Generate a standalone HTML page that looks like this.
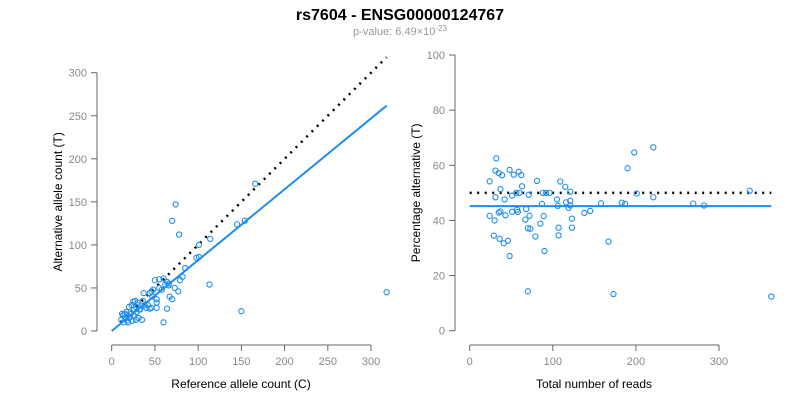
<!DOCTYPE html>
<html><head><meta charset="utf-8"><style>
body{margin:0;background:#fff}
svg{display:block;font-family:"Liberation Sans",Arial,sans-serif}
</style></head><body>
<svg id="c" width="800" height="400">
<text x="400" y="20" text-anchor="middle" font-size="16" font-weight="bold">rs7604 - ENSG00000124767</text>
<text x="400" y="35" text-anchor="middle" font-size="11" fill="#999">p-value: 6.49×10<tspan dy="-4" font-size="8">-23</tspan></text>
</svg>
<script>
const refCounts=[166,74,70,78,114,145,154,101,98,101,85,82,79,113,150,318,60,64,67,70,73,77,50,55,60,64,66,58,52,52,52,46,44,42,47,46,37,35,28,25,27,30,32,20,22,15,12,14,18,16,20,25,29,33,38,40,31,17,13,19,24,26,23,30,36,44,48,55,62,66,18,21,11,28];
const altCounts=[171,147,128,112,107,124,128,100,85,86,73,63,59,54,23,45,10,26,40,37,50,46,59,60,61,57,53,48,37,33,27,27,26,30,40,46,44,13,13,34,35,30,25,28,20,20,20,10,12,15,15,18,22,25,30,27,15,22,18,10,12,25,30,33,35,44,48,50,54,55,19,16,13,28];
const leftXTicks=[0,50,100,150,200,250,300];
const leftYTicks=[0,50,100,150,200,250,300];
const rightXTicks=[0,100,200,300];
const rightYTicks=[0,20,40,60,80,100];
const fitSlope=0.823;
const fitPct=45.2;

const svg=document.getElementById('c');
const NS='http://www.w3.org/2000/svg';
function mk(tag,attrs,parent){const e=document.createElementNS(NS,tag);for(const k in attrs)e.setAttribute(k,attrs[k]);(parent||svg).appendChild(e);return e;}
const AX='#666',LB='#888',BLUE='#1e8cf0';

const lx=v=>111.7+v*0.8645, ly=v=>331-v*0.861;
const rx=v=>469.7+v*0.831, ry=v=>330.7-v*2.757;

function axes(xs,ys,xt,yt,xAxisY,yAxisX,xTitle,yTitle,xTitleX,yTitleX,pfx){
  const g=mk('g',{});
  
  
  mk('line',{x1:xs(xt[0]),x2:xs(xt[xt.length-1]),y1:xAxisY,y2:xAxisY,stroke:AX},g);
  xt.forEach(t=>{mk('line',{x1:xs(t),x2:xs(t),y1:xAxisY,y2:xAxisY+6,stroke:AX},g);
    const tx=mk('text',{x:xs(t),y:xAxisY+20,'text-anchor':'middle','font-size':11,fill:LB},g);tx.textContent=t;
    
    });
  mk('line',{x1:yAxisX,x2:yAxisX,y1:ys(yt[0]),y2:ys(yt[yt.length-1]),stroke:AX},g);
  yt.forEach(t=>{mk('line',{x1:yAxisX,x2:yAxisX-6,y1:ys(t),y2:ys(t),stroke:AX},g);
    const tx=mk('text',{x:yAxisX-10,y:ys(t)+4,'text-anchor':'end','font-size':11,fill:LB},g);tx.textContent=t;
    
    });
  const xtl=mk('text',{x:xTitleX,y:388,'text-anchor':'middle','font-size':12},g);xtl.textContent=xTitle;
  
  
  const ytl=mk('text',{x:0,y:0,'text-anchor':'middle','font-size':12,transform:`translate(${yTitleX},${(ys(yt[0])+ys(yt[yt.length-1]))/2}) rotate(-90)`},g);ytl.textContent=yTitle;
  
  
}
axes(lx,ly,leftXTicks,leftYTicks,345,97,'Reference allele count (C)','Alternative allele count (T)',241,62,'left');
axes(rx,ry,rightXTicks,rightYTicks,345,455,'Total number of reads','Percentage alternative (T)',594,420,'right');

const dl=mk('line',{x1:lx(10),y1:ly(10),x2:lx(318),y2:ly(318),stroke:'#000','stroke-width':2.5,'stroke-dasharray':'2 5.5'});


const bl=mk('line',{x1:lx(0),y1:ly(0),x2:lx(318),y2:ly(318*fitSlope),stroke:BLUE,'stroke-width':2});


refCounts.forEach((r,i)=>{const a=altCounts[i];
  const c=mk('circle',{cx:lx(r),cy:ly(a),r:2.6,fill:'none',stroke:BLUE,'stroke-width':1.1});
  
  });

const dr=mk('line',{x1:rx(0),y1:ry(50),x2:rx(363),y2:ry(50),stroke:'#000','stroke-width':2.5,'stroke-dasharray':'2 5.5'});


const br=mk('line',{x1:rx(0),y1:ry(fitPct),x2:rx(363),y2:ry(fitPct),stroke:BLUE,'stroke-width':2});


refCounts.forEach((r,i)=>{const a=altCounts[i],t=r+a;
  const c=mk('circle',{cx:rx(t),cy:ry(100*a/t),r:2.6,fill:'none',stroke:BLUE,'stroke-width':1.1});
  
  });
</script>
</body></html>
